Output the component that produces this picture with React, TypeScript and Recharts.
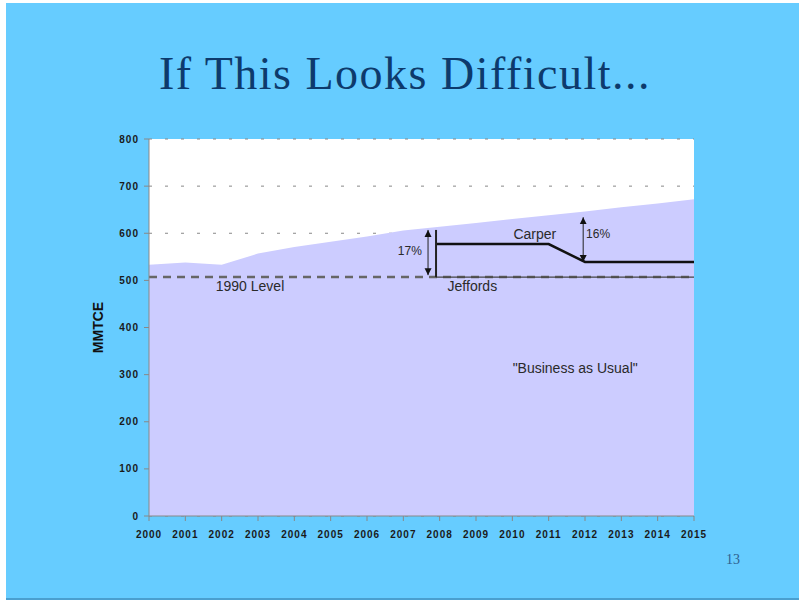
import { Area, CartesianGrid, ComposedChart, Line, ReferenceDot, ReferenceLine, XAxis, YAxis } from 'recharts'

const years = [2000, 2001, 2002, 2003, 2004, 2005, 2006, 2007, 2008, 2009, 2010, 2011, 2012, 2013, 2014, 2015]
const businessAsUsual = [533, 538, 533, 557, 571, 582, 593, 606, 614, 622, 630, 638, 646, 655, 663, 672]
const level1990 = 507
const carperYears = [2007.9, 2011, 2012, 2015]
const carperValues = [577, 577, 539, 539]
const jeffordsYears = [2007.9, 2015]
const jeffordsValues = [507, 507]
const yTicks = [0, 100, 200, 300, 400, 500, 600, 700, 800]

const chartData = years.map((year, i) => ({ year, bau: businessAsUsual[i] }))
const carperData = carperYears.map((year, i) => ({ year, carper: carperValues[i] }))
const jeffordsData = jeffordsYears.map((year, i) => ({ year, jeffords: jeffordsValues[i] }))

const labelFont = 'Liberation Sans, Arial, sans-serif'
const tickStyle = { fontSize: 10, fontWeight: 700, fill: '#1a1a1a', fontFamily: labelFont, letterSpacing: 1 }

const arrowShape = (props: any) => (
  <line
    x1={props.x1}
    y1={props.y1}
    x2={props.x2}
    y2={props.y2}
    stroke="#222"
    strokeWidth={1}
    markerStart="url(#arrowHead)"
    markerEnd="url(#arrowHead)"
  />
)

const note = (value: string, size = 14) => ({
  value,
  position: 'center' as const,
  fill: '#2a2a2a',
  fontSize: size,
  fontFamily: labelFont,
})

export default function App() {
  return (
    <div style={{ position: 'absolute', left: 0, top: 0, width: 799, height: 600, background: '#fff' }}>
      <div
        style={{
          position: 'absolute',
          left: 6,
          top: 3,
          width: 793,
          height: 595,
          background: '#66CCFF',
          borderBottom: '2px solid #4a9fcf',
        }}
      />
      <div
        style={{
          position: 'absolute',
          left: 0,
          top: 51,
          width: 810,
          textAlign: 'center',
          fontFamily: 'Liberation Serif, Times New Roman, serif',
          fontSize: 46,
          letterSpacing: 1.5,
          lineHeight: '46px',
          color: '#0d3a6c',
        }}
      >
        If This Looks Difficult...
      </div>
      <div
        style={{
          position: 'absolute',
          left: 726,
          top: 552,
          fontFamily: 'Liberation Serif, Times New Roman, serif',
          fontSize: 14,
          color: '#2f5f8f',
        }}
      >
        13
      </div>
      <div style={{ position: 'absolute', left: 0, top: 0 }}>
        <ComposedChart width={799} height={600} data={chartData} margin={{ top: 139, right: 105, bottom: 54, left: 104 }}>
          <defs>
            <marker
              id="arrowHead"
              viewBox="0 0 10 10"
              refX="10"
              refY="5"
              markerWidth="7"
              markerHeight="8"
              markerUnits="userSpaceOnUse"
              orient="auto-start-reverse"
            >
              <path d="M0,0 L10,5 L0,10 z" fill="#111" />
            </marker>
          </defs>
          <CartesianGrid fill="#fff" stroke="#888" strokeDasharray="3 13" vertical={false} />
          <XAxis
            dataKey="year"
            type="number"
            domain={[2000, 2015]}
            ticks={years}
            allowDataOverflow
            height={30}
            stroke="#888"
            tickSize={5}
            tickMargin={10}
            tick={tickStyle}
          />
          <YAxis
            type="number"
            domain={[0, 800]}
            ticks={yTicks}
            width={45}
            stroke="#888"
            tickSize={5}
            tickMargin={5}
            tick={tickStyle}
            label={{
              value: 'MMTCE',
              angle: -90,
              position: 'left',
              offset: 6,
              fontSize: 14,
              fontWeight: 700,
              fill: '#111',
              fontFamily: labelFont,
              style: { textAnchor: 'middle' },
            }}
          />
          <Area dataKey="bau" type="linear" fill="#ccccff" fillOpacity={1} stroke="none" isAnimationActive={false} />
          <ReferenceLine y={level1990} stroke="#666" strokeWidth={2.5} strokeDasharray="8 6" />
          <Line
            data={jeffordsData}
            dataKey="jeffords"
            type="linear"
            stroke="#444"
            strokeWidth={1.2}
            dot={false}
            isAnimationActive={false}
          />
          <Line
            data={carperData}
            dataKey="carper"
            type="linear"
            stroke="#111"
            strokeWidth={2.5}
            dot={false}
            isAnimationActive={false}
          />
          <ReferenceLine
            segment={[
              { x: 2007.9, y: 607 },
              { x: 2007.9, y: 507 },
            ]}
            stroke="#222"
            strokeWidth={2}
          />
          <ReferenceLine
            segment={[
              { x: 2007.68, y: 607 },
              { x: 2007.68, y: 511 },
            ]}
            shape={arrowShape}
          />
          <ReferenceLine
            segment={[
              { x: 2011.95, y: 634 },
              { x: 2011.95, y: 539 },
            ]}
            shape={arrowShape}
          />
          <ReferenceDot x={2002.78} y={488} r={0} fill="none" stroke="none" label={note('1990 Level')} />
          <ReferenceDot x={2008.9} y={488} r={0} fill="none" stroke="none" label={note('Jeffords')} />
          <ReferenceDot x={2010.62} y={598} r={0} fill="none" stroke="none" label={note('Carper')} />
          <ReferenceDot x={2007.18} y={562} r={0} fill="none" stroke="none" label={note('17%', 12)} />
          <ReferenceDot x={2012.36} y={600} r={0} fill="none" stroke="none" label={note('16%', 12)} />
          <ReferenceDot x={2011.73} y={314} r={0} fill="none" stroke="none" label={note('"Business as Usual"')} />
        </ComposedChart>
      </div>
    </div>
  )
}
